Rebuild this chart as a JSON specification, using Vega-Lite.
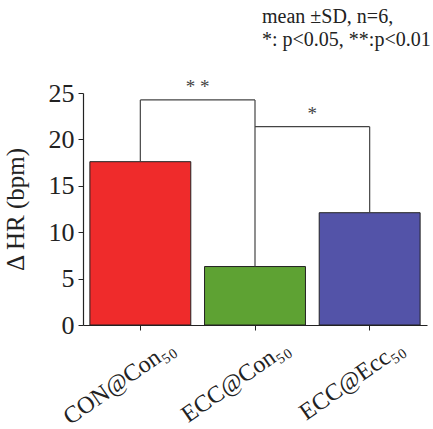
{
  "$schema": "https://vega.github.io/schema/vega-lite/v6.json",
  "width": 344,
  "height": 232,
  "autosize": {"type": "none"},
  "padding": {"left": 83, "top": 93, "right": 6, "bottom": 104},
  "background": "white",
  "config": {
    "view": {"stroke": null},
    "font": "Liberation Serif",
    "axis": {"domainColor": "#222", "tickColor": "#222", "labelColor": "#222", "titleColor": "#222", "grid": false}
  },
  "title": {
    "text": ["mean  ±SD, n=6,", "*: p<0.05, **:p<0.01"],
    "anchor": "start",
    "frame": "group",
    "align": "left",
    "dx": 179,
    "offset": 28,
    "fontSize": 20,
    "fontWeight": "normal",
    "font": "Liberation Serif",
    "color": "#222",
    "lineHeight": 23
  },
  "datasets": {
    "bars": [
      {"group": "CON@Con₅₀", "value": 17.6},
      {"group": "ECC@Con₅₀", "value": 6.3},
      {"group": "ECC@Ecc₅₀", "value": 12.1}
    ],
    "verts": [
      {"group": "CON@Con₅₀", "lo": 17.6, "hi": 24.25},
      {"group": "ECC@Con₅₀", "lo": 6.3, "hi": 24.25},
      {"group": "ECC@Ecc₅₀", "lo": 12.1, "hi": 21.37}
    ],
    "brackets": [
      {"from": "CON@Con₅₀", "to": "ECC@Con₅₀", "y": 24.25},
      {"from": "ECC@Con₅₀", "to": "ECC@Ecc₅₀", "y": 21.37}
    ],
    "stars": [
      {"group": "CON@Con₅₀", "y": 24.6, "label": "* *"},
      {"group": "ECC@Con₅₀", "y": 21.7, "label": "*"}
    ]
  },
  "layer": [
    {
      "data": {"name": "bars"},
      "mark": {"type": "bar", "stroke": "#222", "strokeWidth": 1},
      "encoding": {
        "x": {
          "field": "group", "type": "nominal", "sort": null,
          "scale": {"paddingInner": 0.12, "paddingOuter": 0.06},
          "axis": {"title": null, "labelFont": "Liberation Serif", "labelAngle": -35, "labelAlign": "right", "labelBaseline": "middle", "labelOffset": 32, "labelPadding": 15, "labelFontSize": 24, "tickSize": 5, "domainWidth": 1.2}
        },
        "y": {
          "field": "value", "type": "quantitative",
          "scale": {"domain": [0, 25], "nice": false},
          "axis": {"title": "Δ HR (bpm)", "titleFont": "Liberation Serif", "labelFont": "Liberation Serif", "titleFontSize": 25, "titleFontWeight": "normal", "titlePadding": 20, "values": [0, 2.5, 5, 7.5, 10, 12.5, 15, 17.5, 20, 22.5, 25], "labelExpr": "datum.value % 5 === 0 ? datum.label : ''", "labelFontSize": 26, "tickSize": 5, "labelPadding": 4, "domainWidth": 1.2}
        },
        "color": {"field": "group", "type": "nominal", "legend": null, "scale": {"range": ["#ef2b2b", "#5ea233", "#5353a8"]}}
      }
    },
    {
      "data": {"name": "verts"},
      "mark": {"type": "rule", "color": "#444", "strokeWidth": 1.2},
      "encoding": {
        "x": {"field": "group", "type": "nominal", "sort": null},
        "y": {"field": "lo", "type": "quantitative"},
        "y2": {"field": "hi"}
      }
    },
    {
      "data": {"name": "brackets"},
      "mark": {"type": "rule", "color": "#444", "strokeWidth": 1.2},
      "encoding": {
        "x": {"field": "from", "type": "nominal", "sort": null},
        "x2": {"field": "to"},
        "y": {"field": "y", "type": "quantitative"}
      }
    },
    {
      "data": {"name": "stars"},
      "mark": {"type": "text", "fontSize": 19, "baseline": "bottom", "color": "#444", "font": "Liberation Serif"},
      "encoding": {
        "x": {"field": "group", "type": "nominal", "sort": null, "bandPosition": 1.068},
        "y": {"field": "y", "type": "quantitative"},
        "text": {"field": "label"}
      }
    }
  ]
}
